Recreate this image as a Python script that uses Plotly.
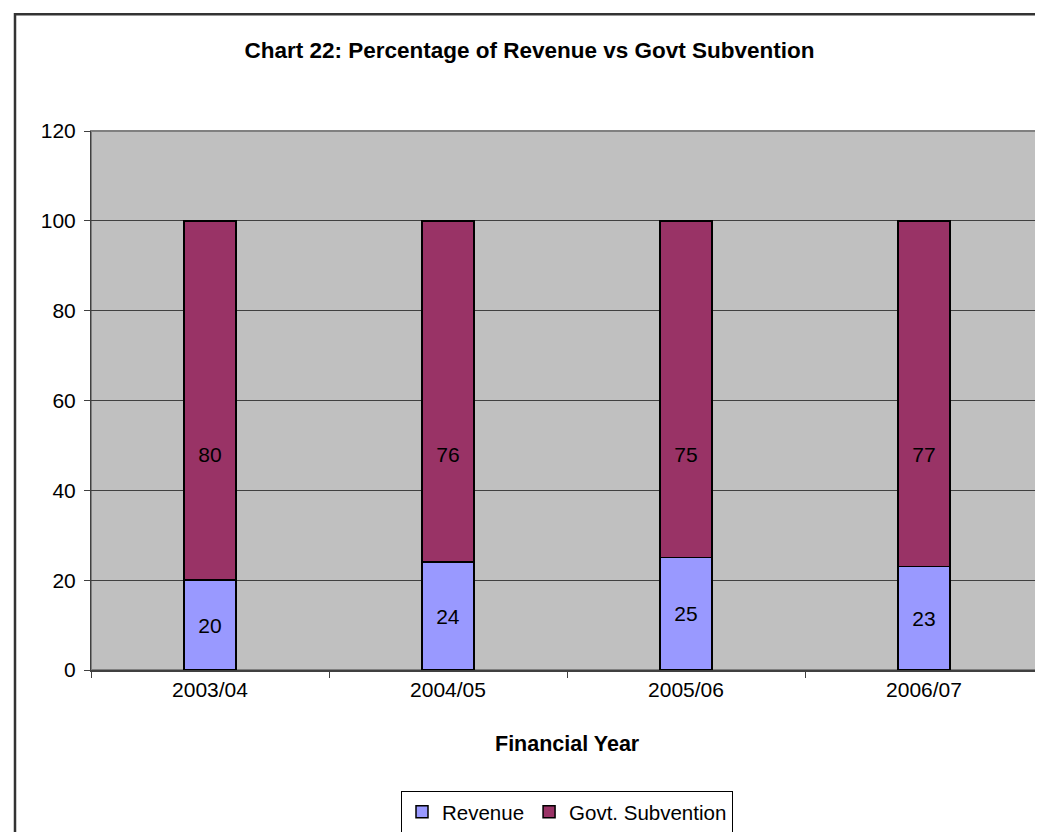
import plotly.graph_objects as go

years = ["2003/04", "2004/05", "2005/06", "2006/07"]
revenue = [20, 24, 25, 23]
subvention = [80, 76, 75, 77]
y_ticks = [0, 20, 40, 60, 80, 100, 120]

FONT = "Liberation Sans, Arial, sans-serif"

fig = go.Figure()
fig.add_trace(go.Bar(
    x=years, y=revenue, name="Revenue",
    marker=dict(color="#9999FF", line=dict(color="#000000", width=1.5)),
    text=revenue, textposition="inside", insidetextanchor="middle",
    textfont=dict(color="black", size=21, family=FONT),
))
fig.add_trace(go.Bar(
    x=years, y=subvention, name="Govt. Subvention",
    marker=dict(color="#993366", line=dict(color="#000000", width=1.5)),
    textposition="none",
))
# subvention labels sit around the middle of the whole column in the original
totals = [r + s for r, s in zip(revenue, subvention)]
fig.add_trace(go.Scatter(
    x=years, y=[t / 2 - 2.5 for t in totals], mode="text", text=subvention,
    textfont=dict(color="black", size=21, family=FONT),
    showlegend=False, hoverinfo="skip",
))

fig.update_layout(
    barmode="stack",
    bargap=0.78,
    width=1043, height=832,
    margin=dict(l=83, r=8, t=123, b=169),
    paper_bgcolor="white",
    plot_bgcolor="#C0C0C0",
    font=dict(family=FONT, size=21, color="black"),
    title=dict(text="<b>Chart 22: Percentage of Revenue vs Govt Subvention</b>",
               x=0.5, xanchor="center", y=1 - 42 / 832, yanchor="middle",
               font=dict(size=22.5, family=FONT, color="black")),
    showlegend=True,
    legend=dict(orientation="h", x=0.5, xanchor="center", y=-0.222, yanchor="top",
                bordercolor="black", borderwidth=1, bgcolor="white",
                font=dict(size=20.5, family=FONT), itemwidth=30,
                traceorder="normal"),
)

fig.update_yaxes(
    range=[0, 120], tickvals=y_ticks, showgrid=True, gridcolor="#404040", gridwidth=1,
    showline=True, linecolor="#404040", linewidth=1,
    ticks="outside", ticklen=6, tickcolor="#404040",
    tickfont=dict(size=21), zeroline=False, ticklabelstandoff=4,
)
fig.update_xaxes(
    showline=True, linecolor="#404040", linewidth=1.5,
    ticks="outside", ticklen=6, tickcolor="#404040", tickson="boundaries",
    tickfont=dict(size=21), showgrid=False,
)

# x-axis title
fig.add_annotation(text="<b>Financial Year</b>", xref="paper", yref="paper",
                   x=0.5, y=(663 - 737) / 540, xanchor="center", yanchor="middle",
                   showarrow=False, font=dict(size=21.5, family=FONT, color="black"))

# plot area border (top/right grey)
fig.add_shape(type="rect", xref="paper", yref="paper", x0=0, x1=1, y0=0, y1=1,
              line=dict(color="#808080", width=2), layer="below")
# outer chart border
fig.add_shape(type="rect", xref="paper", yref="paper",
              x0=(7 - 83) / 952, x1=1.2, y0=-0.6, y1=(663 - 6) / 540,
              line=dict(color="#333333", width=2.5), layer="above")

fig.write_html("out.html")
